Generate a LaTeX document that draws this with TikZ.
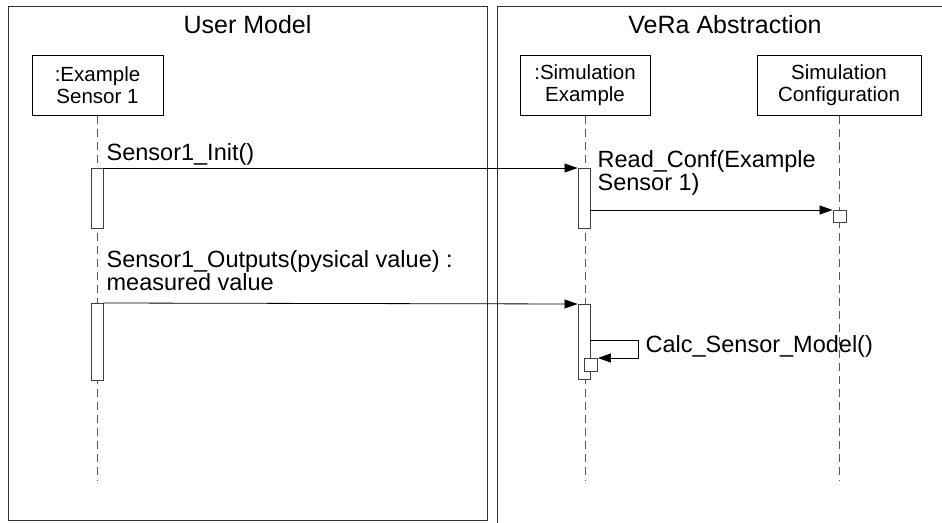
\documentclass[tikz,border=0pt]{standalone}
\usepackage{fontspec}
\setmainfont{Liberation Sans}
\usetikzlibrary{positioning, arrows.meta}

\begin{document}
\begin{tikzpicture}
        [x=1pt, y=-1pt,
            every node/.style={align=left, inner sep=0pt},
            objbox/.style={draw, fill=white, align=center, minimum height=60pt, line width=0.9pt, font=\fontsize{20.5}{22}\selectfont},
            actbar/.style={draw=black!75, fill=white, minimum width=12pt, line width=0.9pt},
            msg/.style={-{Triangle[length=13pt, width=9pt]}, line width=0.8pt},
            msgtext/.style={anchor=base west, font=\fontsize{23.5}{23}\selectfont},
            lifeline/.style={draw=black!65, dash pattern=on 8pt off 5pt, line width=0.8pt},
            frame/.style={draw=black!80, line width=1.2pt},
            frametitle/.style={anchor=base, font=\fontsize{25}{26}\selectfont}
        ]
        \useasboundingbox (0,0) rectangle (942,522);
        \clip (0,0) rectangle (942,522);
        % the two frames with their titles
        \node (userframe) [frame, minimum width=479pt, minimum height=514pt, anchor=north west] at (8,6) {};
        \node (veraframe) [frame, minimum width=470pt, minimum height=540pt, anchor=north west] at (497,6) {};
        \node (usertitle) [frametitle] at (247.5,33) {User Model};
        \node (veratitle) [frametitle] at (725,33) {VeRa Abstraction};
        % lifeline heads
        \node (sensor) [objbox, minimum width=131pt, anchor=north] at (97.5,55) {:Example\\Sensor 1};
        \node (simex) [objbox, minimum width=130pt, anchor=north] at (585,55) {:Simulation\\Example};
        \node (simconf) [objbox, minimum width=164pt, anchor=north] at (839,55) {Simulation\\Configuration};
        \draw[lifeline] (sensor.south) -- (sensor.south |- 0,480);
        \draw[lifeline] (simex.south) -- (simex.south |- 0,480);
        \draw[lifeline] (simconf.south) -- (simconf.south |- 0,480);
        % activations
        \node (sensoract1) [actbar, minimum height=60pt, anchor=north] at (97,168) {};
        \node (sensoract2) [actbar, minimum height=77pt, anchor=north] at (97,303) {};
        \node (simact1) [actbar, minimum height=60pt, anchor=north] at (584,168) {};
        \node (simact2) [actbar, minimum height=75pt, anchor=north] at (584,304) {};
        \node (confact) [actbar, minimum width=13pt, minimum height=12pt, anchor=north] at (839.5,210) {};
        \node (selfact) [actbar, minimum width=13pt, minimum height=13pt, anchor=north west] at (584,358) {};
        % messages
        \draw[msg] (sensoract1.north east) -- (simact1.north west);
        \node (initlabel) [msgtext] at ([shift={(3,-8)}]sensoract1.north east) {Sensor1\_Init()};
        \draw[msg] (simact1.east |- confact.north) -- (confact.north west);
        \node (conflabel) [msgtext] at ([shift={(7,22)}]simact1.north east) {Read\_Conf(Example\\Sensor 1)};
        \draw[msg] (sensoract2.north east) -- (simact2.north west);
        \node (outlabel) [msgtext] at ([shift={(3,-13)}]sensoract2.north east) {Sensor1\_Outputs(pysical value) :\\measured value};
        \coordinate (selfstart) at (simact2.east |- 0,340);
        \draw[msg] (selfstart) -- ++(48,0) coordinate (selfturn) -- ++(0,18) -- (selfact.north east);
        \node (calclabel) [msgtext] at ([shift={(7,12)}]selfturn) {Calc\_Sensor\_Model()};
    \end{tikzpicture}
\end{document}
